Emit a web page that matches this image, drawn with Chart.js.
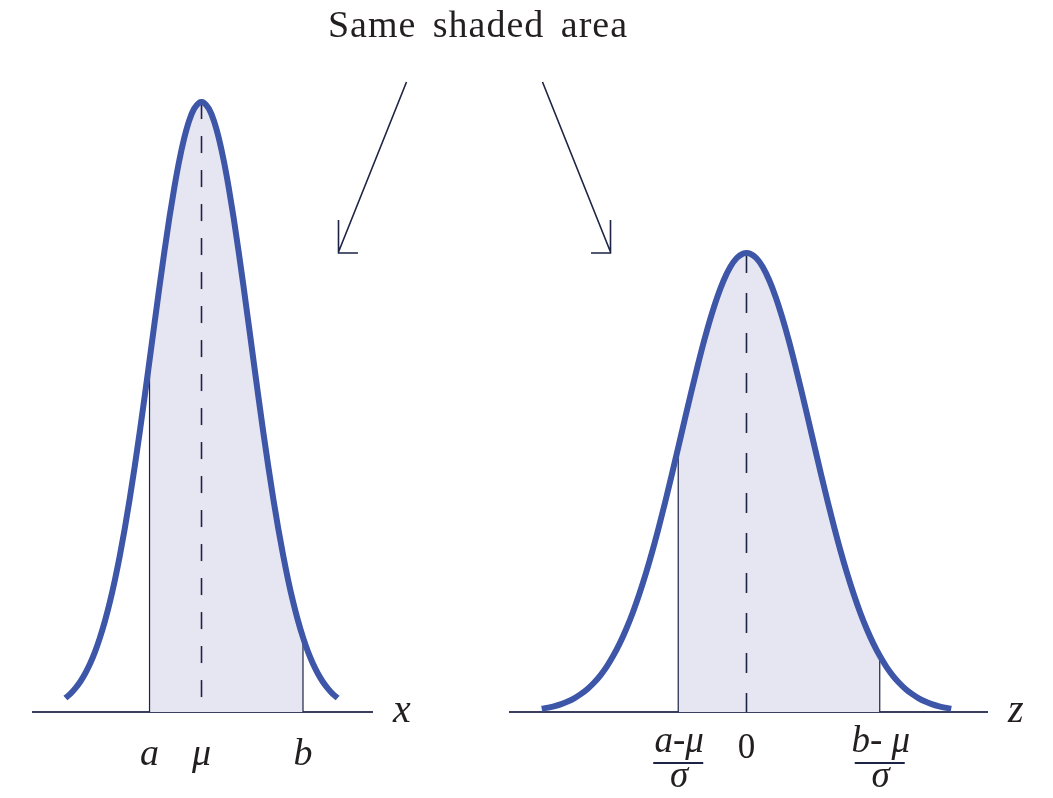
<!DOCTYPE html>
<html>
<head>
<meta charset="utf-8">
<title>Same shaded area</title>
<script src="https://cdn.jsdelivr.net/npm/chart.js@4.4.0/dist/chart.umd.min.js"></script>
<style>
  html, body { margin: 0; padding: 0; background: #fff; }
  #wrap { position: relative; width: 1053px; height: 798px; }
  #wrap canvas { position: absolute; left: 0; top: 0; }
</style>
</head>
<body>
<div id="wrap">
  <canvas id="leftChart" width="1053" height="798"></canvas>
  <canvas id="rightChart" width="1053" height="798"></canvas>
</div>
<script>
// normal density, sampled in standard-deviation units
const zValues = [
  -3.15, -3.05, -2.95, -2.85, -2.75, -2.65, -2.55, -2.45, -2.35, -2.25, -2.15,
  -2.05, -1.95, -1.85, -1.75, -1.65, -1.55, -1.45, -1.35, -1.25, -1.15,
  -1.05, -0.95, -0.85, -0.75, -0.65, -0.55, -0.45, -0.35, -0.25, -0.15, -0.05,
  0,
  0.05, 0.15, 0.25, 0.35, 0.45, 0.55, 0.65, 0.75, 0.85, 0.95, 1.05,
  1.15, 1.25, 1.35, 1.45, 1.55, 1.65, 1.75, 1.85, 1.95, 2.05,
  2.15, 2.25, 2.35, 2.45, 2.55, 2.65, 2.75, 2.85, 2.95, 3.05, 3.15
];
const densValues = [
  0.0028, 0.0038, 0.0051, 0.0069, 0.0091, 0.0119, 0.0155, 0.0198, 0.0252, 0.0317, 0.0395,
  0.0488, 0.0596, 0.0721, 0.0863, 0.1023, 0.1200, 0.1394, 0.1604, 0.1826, 0.2059,
  0.2299, 0.2541, 0.2780, 0.3011, 0.3230, 0.3429, 0.3605, 0.3752, 0.3867, 0.3945, 0.3984,
  0.3989,
  0.3984, 0.3945, 0.3867, 0.3752, 0.3605, 0.3429, 0.3230, 0.3011, 0.2780, 0.2541, 0.2299,
  0.2059, 0.1826, 0.1604, 0.1394, 0.1200, 0.1023, 0.0863, 0.0721, 0.0596, 0.0488,
  0.0395, 0.0317, 0.0252, 0.0198, 0.0155, 0.0119, 0.0091, 0.0069, 0.0051, 0.0038, 0.0028
];

// bounds of the shaded interval and where each curve stops
const zA = -1.05;
const zB = 2.05;
const leftCurveEnd = 2.75;
const rightCurveEnd = 3.15;

// tick labels under each axis
const leftTickValues = [zA, 0, zB];
const leftTickLabels = [['a'], ['μ'], ['b']];
const rightTickValues = [zA, 0, zB];
const rightTickLabels = [['a-μ', 'σ'], ['0'], ['b- μ', 'σ']];

const titleText = 'Same shaded area';

const BLUE = '#3d56a8';
const SHADE = '#e6e6f2';
const NAVY = '#1d2344';
const AXIS = '#3a3e5e';
const TEXT = '#231f20';
const SERIF = '"Liberation Serif", "DejaVu Serif", serif';

function points(lo, hi) {
  const out = [];
  zValues.forEach((z, i) => {
    if (z >= lo - 1e-9 && z <= hi + 1e-9) out.push({ x: z, y: densValues[i] });
  });
  return out;
}
const densAt = z => densValues[zValues.indexOf(z)];
const peak = densAt(0);

function buildDatasets(curveEnd, dash) {
  return [
    {
      data: points(-curveEnd, curveEnd),
      borderColor: BLUE, borderWidth: 6, borderCapStyle: 'butt',
      cubicInterpolationMode: 'monotone', pointRadius: 0, fill: false, order: 0
    },
    {
      data: [{ x: 0, y: peak }, { x: 0, y: 0 }],
      borderColor: NAVY, borderWidth: 1.6, borderDash: dash,
      pointRadius: 0, fill: false, order: 1
    },
    {
      data: [{ x: zA, y: 0 }, { x: zA, y: densAt(zA) }],
      borderColor: NAVY, borderWidth: 1.2, pointRadius: 0, fill: false, order: 1
    },
    {
      data: [{ x: zB, y: 0 }, { x: zB, y: densAt(zB) }],
      borderColor: NAVY, borderWidth: 1.2, pointRadius: 0, fill: false, order: 1
    },
    {
      data: points(zA, zB),
      borderWidth: 0, backgroundColor: SHADE, fill: 'origin',
      cubicInterpolationMode: 'monotone', pointRadius: 0, order: 2
    }
  ];
}

// labels under the axis (plain, or as a fraction) plus the axis variable
const axisText = {
  id: 'axisText',
  afterDraw(chart, args, opts) {
    const ctx = chart.ctx;
    const xs = chart.scales.x;
    const axisY = xs.top;
    ctx.save();
    ctx.fillStyle = TEXT;
    ctx.textAlign = 'center';
    ctx.textBaseline = 'alphabetic';
    opts.values.forEach((v, i) => {
      const px = xs.getPixelForValue(v);
      const lines = opts.labels[i];
      if (lines.length === 2) {
        ctx.font = 'italic 37px ' + SERIF;
        ctx.fillText(lines[0], px + 1, axisY + 40);
        ctx.fillStyle = NAVY;
        ctx.fillRect(px - 25, axisY + 50, 50, 2);
        ctx.fillStyle = TEXT;
        ctx.fillText(lines[1], px + 1, axisY + 75);
      } else if (lines[0] === '0') {
        ctx.font = '35px ' + SERIF;
        ctx.fillText(lines[0], px, axisY + 46);
      } else {
        ctx.font = 'italic 38px ' + SERIF;
        ctx.fillText(lines[0], px, axisY + 53);
      }
    });
    ctx.font = 'italic 40px ' + SERIF;
    ctx.textAlign = 'left';
    ctx.fillText(opts.letter, xs.right + 21, axisY + 10);
    ctx.restore();
  }
};

// heading and the two pointers toward the curves
const header = {
  id: 'header',
  afterDraw(chart) {
    const ctx = chart.ctx;
    ctx.save();
    ctx.fillStyle = TEXT;
    ctx.font = '38px ' + SERIF;
    ctx.textAlign = 'center';
    ctx.textBaseline = 'alphabetic';
    ctx.letterSpacing = '1px';
    ctx.wordSpacing = '6px';
    ctx.fillText(titleText, 478, 37);
    ctx.restore();

    ctx.save();
    ctx.strokeStyle = NAVY;
    ctx.lineWidth = 1.6;
    ctx.beginPath();
    ctx.moveTo(406.5, 82); ctx.lineTo(338.5, 252);
    ctx.moveTo(338.5, 220); ctx.lineTo(338.5, 253); ctx.lineTo(358, 253);
    ctx.moveTo(542.5, 82); ctx.lineTo(610.5, 252);
    ctx.moveTo(610.5, 220); ctx.lineTo(610.5, 253); ctx.lineTo(591, 253);
    ctx.stroke();
    ctx.restore();
  }
};

function makeChart(id, cfg) {
  return new Chart(document.getElementById(id), {
    type: 'line',
    data: { datasets: buildDatasets(cfg.curveEnd, cfg.dash) },
    options: {
      responsive: false,
      animation: false,
      devicePixelRatio: 1,
      layout: { padding: cfg.padding },
      plugins: {
        legend: { display: false },
        tooltip: { enabled: false },
        axisText: { values: cfg.tickValues, labels: cfg.tickLabels, letter: cfg.letter }
      },
      scales: {
        x: {
          type: 'linear', min: cfg.xMin, max: cfg.xMax,
          grid: { display: false },
          ticks: { display: false },
          border: { display: true, color: AXIS, width: 2 }
        },
        y: { display: false, min: 0, max: cfg.yMax }
      }
    },
    plugins: cfg.plugins
  });
}

// the x axis keeps 8px of tick room below the plot, so the bottom padding is 8px less
makeChart('leftChart', {
  curveEnd: leftCurveEnd, dash: [17, 17],
  padding: { left: 33, right: 681, top: 60, bottom: 78 },
  xMin: -3.404, xMax: 3.444, yMax: 0.4264,
  tickValues: leftTickValues, tickLabels: leftTickLabels, letter: 'x',
  plugins: [axisText, header]
});

makeChart('rightChart', {
  curveEnd: rightCurveEnd, dash: [20, 20],
  padding: { left: 510, right: 66, top: 60, bottom: 78 },
  xMin: -3.638, xMax: 3.700, yMax: 0.5666,
  tickValues: rightTickValues, tickLabels: rightTickLabels, letter: 'z',
  plugins: [axisText]
});
</script>
</body>
</html>
